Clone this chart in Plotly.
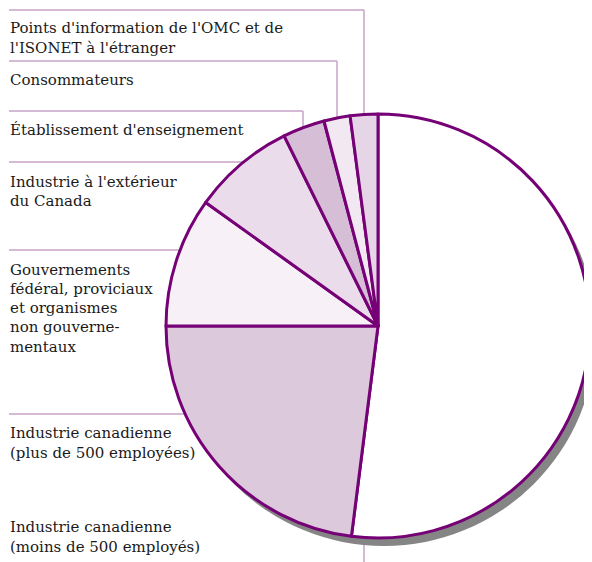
import plotly.graph_objects as go

# Répartition des demandes de renseignements (%), dans le sens horaire depuis midi
categories = [
    "Industrie canadienne (moins de 500 employés)",
    "Industrie canadienne (plus de 500 employées)",
    "Gouvernements fédéral, proviciaux et organismes non gouvernementaux",
    "Industrie à l'extérieur du Canada",
    "Établissement d'enseignement",
    "Consommateurs",
    "Points d'information de l'OMC et de l'ISONET à l'étranger",
]
values = [52.0, 23.0, 9.9, 7.8, 3.2, 2.0, 2.1]
slice_colors = ["#ffffff", "#dccadc", "#f7f1f7", "#eadcea", "#d6bed6", "#f1e8f1", "#e6d5e6"]

# texte des étiquettes, une ligne par élément
label_lines = [
    ["Points d'information de l'OMC et de", "l'ISONET à l'étranger"],
    ["Consommateurs"],
    ["Établissement d'enseignement"],
    ["Industrie à l'extérieur", "du Canada"],
    ["Gouvernements", "fédéral, proviciaux", "et organismes", "non gouverne-", "mentaux"],
    ["Industrie canadienne", "(plus de 500 employées)"],
    ["Industrie canadienne", "(moins de 500 employés)"],
]

# the page body has an 8px margin, so the figure sits at (8, 8)
OFF = 8
W, H = 592 - OFF, 562 - OFF
PURPLE = "#760076"
LEADER = "#c7a3c7"
FONT = "DejaVu Serif"

def px(x):
    return (x - OFF) / W

def py(y):
    return 1 - (y - OFF) / H

# pie geometry (window pixels)
cx, cy, r = 378, 326, 212

fig = go.Figure()
fig.add_trace(go.Pie(
    values=values,
    labels=categories,
    sort=False,
    direction="clockwise",
    rotation=0,
    textinfo="none",
    hoverinfo="label+percent",
    marker=dict(colors=slice_colors, line=dict(color=PURPLE, width=3)),
    domain=dict(x=[px(cx - r), px(cx + r)], y=[py(cy + r), py(cy - r)]),
    showlegend=False,
))

shapes = []
# leader lines (drawn under the pie)
leaders = [
    [(9, 10), (364, 10), (364, 200)],
    [(9, 61), (337, 61), (337, 200)],
    [(9, 111), (303, 111), (303, 200)],
    [(9, 162), (300, 162)],
    [(9, 250), (300, 250)],
    [(9, 414), (300, 414)],
    [(364, 400), (364, 562)],
]
for pts in leaders:
    for (x0, y0), (x1, y1) in zip(pts[:-1], pts[1:]):
        shapes.append(dict(type="line", xref="paper", yref="paper",
                           x0=px(x0), y0=py(y0), x1=px(x1), y1=py(y1),
                           line=dict(color=LEADER, width=1.5), layer="below"))

# drop shadow
sx, sy = 6, 8
shapes.append(dict(type="circle", xref="paper", yref="paper",
                   x0=px(cx - r + sx), x1=px(cx + r + sx),
                   y0=py(cy + r + sy), y1=py(cy - r + sy),
                   fillcolor="#858585", line=dict(width=0), layer="below"))

# label line positions (window pixel centres)
label_y = [
    [28, 48],
    [80],
    [130],
    [182, 201],
    [270, 289, 308, 327, 347],
    [433, 453],
    [527, 547],
]
annotations = []
for lines, ys in zip(label_lines, label_y):
    for txt, yy in zip(lines, ys):
        annotations.append(dict(text=txt, xref="paper", yref="paper",
                                x=px(8), y=py(yy), xanchor="left", yanchor="middle",
                                showarrow=False,
                                font=dict(family=FONT, size=15, color="#1a1a1a")))

fig.update_layout(
    width=W, height=H,
    margin=dict(l=0, r=0, t=0, b=0),
    paper_bgcolor="white",
    plot_bgcolor="white",
    shapes=shapes,
    annotations=annotations,
)

fig.write_html("out.html")
